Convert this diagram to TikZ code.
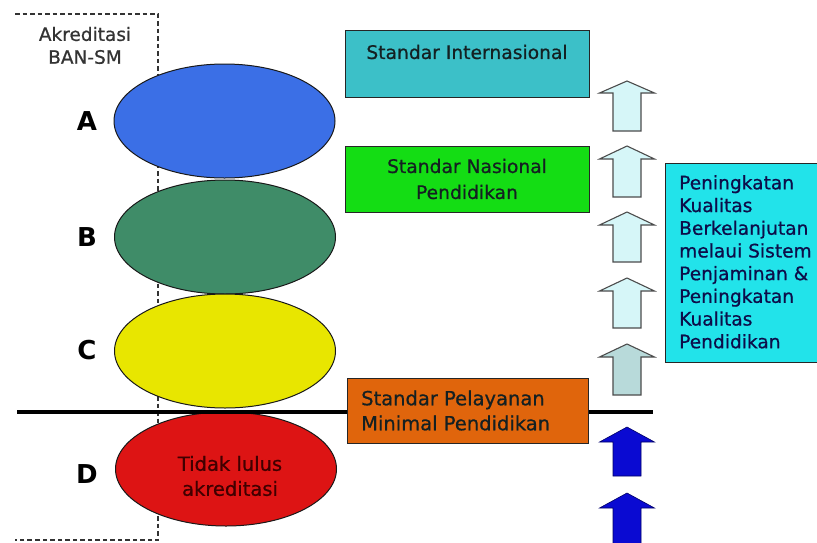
\documentclass[tikz,border=0pt]{standalone}
\usepackage{fontspec}
\setmainfont{DejaVu Sans}
\newfontfamily\semib{DejaVu Sans}[FakeBold=0.7]
\usetikzlibrary{shapes.geometric}
\definecolor{cblue}{HTML}{3B6FE6}
\definecolor{cgreen}{HTML}{3F8C68}
\definecolor{cyellow}{HTML}{E8E600}
\definecolor{cred}{HTML}{DD1414}
\definecolor{cteal}{HTML}{3CC0C8}
\definecolor{cgreenbox}{HTML}{14DD14}
\definecolor{corange}{HTML}{E0650C}
\definecolor{ccyan}{HTML}{22E3EA}
\definecolor{clight}{HTML}{D6F6F8}
\definecolor{clightdark}{HTML}{B8DADA}
\definecolor{carrowblue}{HTML}{0A0AD2}
\definecolor{ctext}{HTML}{142022}
\tikzset{
  x=1pt, y=-1pt,
  level/.style={ellipse, draw=black!90, line width=1pt, inner sep=0pt,
    minimum width=221pt, minimum height=114pt},
  grade/.style={font=\bfseries\fontsize{26}{28}\selectfont, text=black, inner sep=0pt},
  stdbox/.style={draw=black!85, line width=1pt, inner sep=0pt},
  boxtext/.style={font=\semib\fontsize{18.7}{26}\selectfont, text=ctext, inner sep=0pt, align=center},
  pics/uparrow/.style 2 args={code={
    \path[pic actions] (0,0) -- (27.5,#2) -- (14,#2) -- (14,#1) -- (-14,#1)
      -- (-14,#2) -- (-27.5,#2) -- cycle;}},
  lightarrow/.style={draw=black!70, line width=1.1pt, fill=clight},
  bluearrow/.style={draw=blue!40!black, line width=0.6pt, fill=carrowblue},
}
\begin{document}
\begin{tikzpicture}
\clip (0,0) rectangle (817,542);
\fill[white] (0,0) rectangle (817,542);

% dashed frame of the accreditation column
\coordinate (dtl) at (15,14);
\coordinate (dtr) at (158,14);
\coordinate (dbr) at (158,540);
\coordinate (dbl) at (15,540);
\draw[black!80, dash pattern=on 4.5pt off 3pt, line width=1.3pt]
  (dtl) -- (dtr) -- (dbr) -- (dbl);
\node[font=\semib\fontsize{18.5}{24}\selectfont, text=black!80, inner sep=0pt] (akr) at (85,34) {Akreditasi};
\node[font=\semib\fontsize{18.5}{24}\selectfont, text=black!80, inner sep=0pt] (ban) at (85,57) {BAN-SM};

% ellipses
\node[level, fill=cblue] (ea) at (224.5,121) {};
\node[level, fill=cgreen] (eb) at (225,237) {};
\node[level, fill=cyellow] (ec) at (225,351) {};
\node[level, fill=cred, minimum height=114pt] (ed) at (226,469) {};
\node[boxtext, text=red!25!black, font=\semib\fontsize{19.5}{25}\selectfont] (edt) at (230,476) {Tidak lulus\\akreditasi};

% grade letters
\node[grade] (la) at (87,121) {A};
\node[grade] (lb) at (87,237) {B};
\node[grade] (lc) at (87,350) {C};
\node[grade] (ld) at (87,474) {D};

% threshold line
\coordinate (lineL) at (17,412);
\coordinate (lineR) at (653,412);
\draw[black, line width=4pt] (lineL) -- (lineR);

% standard boxes
\node[stdbox, fill=cteal, minimum width=244pt, minimum height=67pt] (si) at (467,63.5) {};
\node[boxtext] (sit) at (467,52) {Standar Internasional};
\node[stdbox, fill=cgreenbox, minimum width=244pt, minimum height=66pt] (sn) at (467,179) {};
\node[boxtext] (snt) at (467,179) {Standar Nasional\\Pendidikan};
\node[stdbox, fill=corange, minimum width=241pt, minimum height=65pt] (sp) at (467.5,410.5) {};
\node[boxtext, align=left, anchor=west, font=\semib\fontsize{19.5}{25}\selectfont] (spt) at (361,410.5) {Standar Pelayanan\\Minimal Pendidikan};

% quality improvement box
\node[stdbox, fill=ccyan, anchor=north west, minimum width=170pt, minimum height=199pt] (qb) at (665,163) {};
\node[boxtext, align=left, anchor=north west, text=blue!25!black!95, font=\semib\fontsize{18.6}{22.7}\selectfont] (qbt) at (679,175)
  {Peningkatan\\Kualitas\\Berkelanjutan\\melaui Sistem\\Penjaminan \&\\Peningkatan\\Kualitas\\Pendidikan};

% arrows
\pic[lightarrow] at (627,81) {uparrow={50}{12}};
\pic[lightarrow] at (627,146) {uparrow={51}{13}};
\pic[lightarrow] at (627,212) {uparrow={50}{13}};
\pic[lightarrow] at (627,278) {uparrow={50}{13}};
\pic[lightarrow, fill=clightdark] at (627,344) {uparrow={51}{13}};
\pic[bluearrow] at (627,427) {uparrow={49}{15}};
\pic[bluearrow] at (627,493) {uparrow={60}{15}};
\end{tikzpicture}
\end{document}
